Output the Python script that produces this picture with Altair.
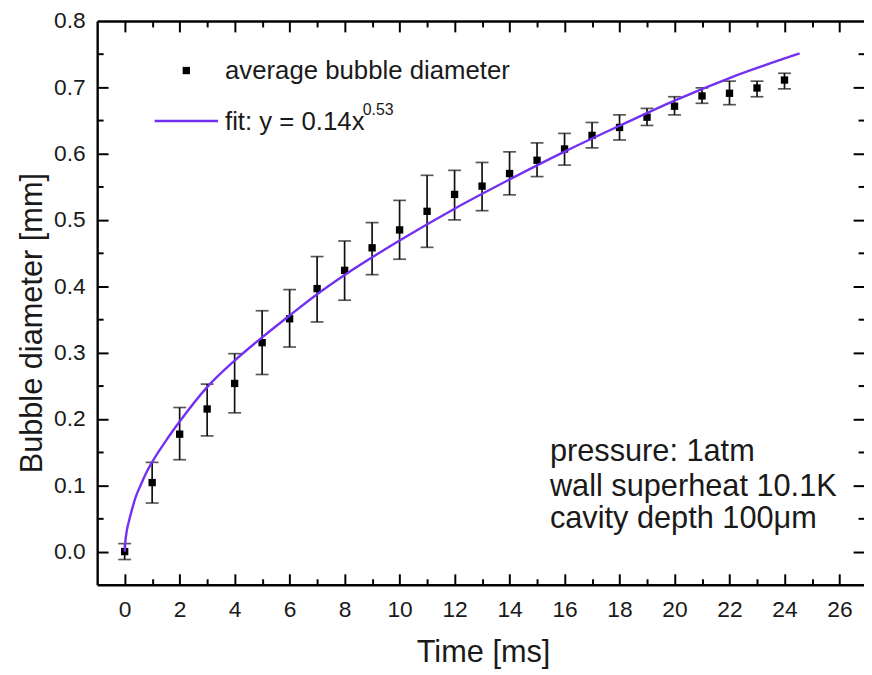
import altair as alt
import pandas as pd

# ---------------- data ----------------
time_ms = list(range(25))
diam_mm = [0.0, 0.104, 0.177, 0.215, 0.2535, 0.315, 0.351, 0.3965, 0.424, 0.458,
           0.485, 0.513, 0.5385, 0.551, 0.570, 0.590, 0.607, 0.6275, 0.6395, 0.655,
           0.6715, 0.687, 0.691, 0.699, 0.711]
err_hi = [0.012, 0.1345, 0.2172, 0.2525, 0.2984, 0.3631, 0.395, 0.4448, 0.4683, 0.496,
          0.5295, 0.5673, 0.5748, 0.5867, 0.6027, 0.6162, 0.6305, 0.647, 0.6585, 0.6682,
          0.6858, 0.6992, 0.7093, 0.7093, 0.7212]
err_lo = [-0.012, 0.0732, 0.1385, 0.1744, 0.2092, 0.267, 0.3084, 0.3462, 0.379, 0.4175,
          0.4408, 0.4587, 0.5001, 0.514, 0.5379, 0.5654, 0.5827, 0.6087, 0.6206, 0.6425,
          0.6585, 0.6759, 0.6738, 0.6858, 0.6977]

# fit curve as drawn
fit_x = [0, 0.03, 0.08, 0.15, 0.25, 0.4, 0.6, 0.8, 1, 1.5, 2, 3, 4, 5, 6, 7, 8,
         10, 12, 14, 16, 18, 20, 22, 24.55]
fit_y = [0, 0.017, 0.032, 0.045, 0.061, 0.082, 0.102, 0.12, 0.135, 0.167, 0.196,
         0.248, 0.288, 0.323, 0.356, 0.388, 0.417, 0.469, 0.517, 0.561, 0.603,
         0.642, 0.680, 0.714, 0.751]

x_major = [0, 2, 4, 6, 8, 10, 12, 14, 16, 18, 20, 22, 24, 26]
x_minor = [1, 3, 5, 7, 9, 11, 13, 15, 17, 19, 21, 23, 25]
y_labels = [0.0, 0.1, 0.2, 0.3, 0.4, 0.5, 0.6, 0.7, 0.8]
y_major = [0.0, 0.1, 0.2, 0.3, 0.4, 0.5, 0.6, 0.7]
y_minor = [0.05, 0.15, 0.25, 0.35, 0.45, 0.55, 0.65, 0.75]

x_title = "Time [ms]"
y_title = "Bubble diameter [mm]"
legend_points = "average bubble diameter"
legend_fit = "fit: y = 0.14x"
legend_fit_exp = "0.53"
notes = ["pressure: 1atm", "wall superheat 10.1K", "cavity depth 100\u03bcm"]

# ---------------- styling ----------------
FONT = "Liberation Sans"
PURPLE = "#7430f2"
INK = "#1a1a1a"
MAJ = 11
MIN = 6

df = pd.DataFrame({"t": time_ms, "d": diam_mm, "hi": err_hi, "lo": err_lo})
fit = pd.DataFrame({"fx": fit_x, "fy": fit_y})
one = pd.DataFrame({"k": [0]})

XS = alt.Scale(domain=[-1, 27], range=[0, 777], nice=False, zero=False)
YS = alt.Scale(domain=[-0.05, 0.8], nice=False, zero=False)


def tick_axis(orient, values, size):
    return alt.Axis(orient=orient, values=values, offset=-size, tickSize=size,
                    tickWidth=2, tickColor="black", domain=False, labels=False,
                    grid=False, title=None)


def frame_axis(orient):
    return alt.Axis(orient=orient, domain=True, domainWidth=2.4, domainColor="black",
                    ticks=False, labels=False, grid=False, title=None)


x_bottom = alt.Axis(orient="bottom", values=x_major, format="d", domain=True,
                    domainWidth=2.4, domainColor="black", ticks=False, tickSize=0,
                    labels=True, labelFont=FONT, labelFontSize=23, labelColor=INK,
                    labelBaseline="alphabetic", labelPadding=32, grid=False,
                    title=x_title, titleFont=FONT, titleFontSize=31,
                    titleFontWeight="normal", titleColor=INK, titleX=389.5,
                    titleY=77, titleBaseline="alphabetic")
y_left = alt.Axis(orient="left", values=y_labels, format=".1f", domain=True,
                  domainWidth=2.4, domainColor="black", ticks=False, tickSize=0,
                  labels=True, labelFont=FONT, labelFontSize=23, labelColor=INK,
                  labelPadding=12, grid=False,
                  title=y_title, titleFont=FONT, titleFontSize=31,
                  titleFontWeight="normal", titleColor=INK, titleAngle=270,
                  titleX=-56, titleY=304.5, titleBaseline="alphabetic",
                  titleAlign="center")

err = alt.Chart(df).mark_rule(color="#111", strokeWidth=1.7).encode(
    x=alt.X("t:Q", scale=XS, axis=x_bottom),
    y=alt.Y("lo:Q", scale=YS, axis=y_left),
    y2="hi:Q",
)
cap_hi = alt.Chart(df).mark_tick(color="#111", orient="horizontal", size=13,
                                 thickness=1.7).encode(
    x=alt.X("t:Q", scale=XS, axis=tick_axis("bottom", x_major, MAJ)),
    y=alt.Y("hi:Q", scale=YS, axis=tick_axis("left", y_major, MAJ)),
)
cap_lo = alt.Chart(df).mark_tick(color="#111", orient="horizontal", size=13,
                                 thickness=1.7).encode(
    x=alt.X("t:Q", scale=XS, axis=tick_axis("bottom", x_minor, MIN)),
    y=alt.Y("lo:Q", scale=YS, axis=tick_axis("left", y_minor, MIN)),
)
squares = alt.Chart(df).mark_square(color="black", size=55, opacity=1).encode(
    x=alt.X("t:Q", scale=XS, axis=frame_axis("top")),
    y=alt.Y("d:Q", scale=YS, axis=tick_axis("right", y_major, MAJ)),
)
fit_line = alt.Chart(fit).mark_line(color=PURPLE, strokeWidth=2.4,
                                    interpolate="monotone").encode(
    x=alt.X("fx:Q", scale=XS, axis=tick_axis("top", x_major, MAJ)),
    y=alt.Y("fy:Q", scale=YS, axis=tick_axis("right", y_minor, MIN)),
)
axis_only = alt.Chart(df).mark_point(opacity=0).encode(
    x=alt.X("t:Q", scale=XS, axis=tick_axis("top", x_minor, MIN)),
    y=alt.Y("d:Q", scale=YS, axis=None),
)

# legend
leg_sq = alt.Chart(one).mark_square(color="black", size=55, opacity=1).encode(
    x=alt.value(90), y=alt.value(50))
leg_line = alt.Chart(one).mark_rule(color=PURPLE, strokeWidth=2.4).encode(
    x=alt.value(58), x2=alt.value(122), y=alt.value(101))
leg_t1 = alt.Chart(one).mark_text(align="left", baseline="alphabetic", font=FONT,
                                  fontSize=26, color=INK).encode(
    x=alt.value(129), y=alt.value(59), text=alt.value(legend_points))
leg_t2 = alt.Chart(one).mark_text(align="left", baseline="alphabetic", font=FONT,
                                  fontSize=26, color=INK).encode(
    x=alt.value(129), y=alt.value(110), text=alt.value(legend_fit))
leg_t3 = alt.Chart(one).mark_text(align="left", baseline="alphabetic", font=FONT,
                                  fontSize=16, color=INK).encode(
    x=alt.value(268), y=alt.value(95), text=alt.value(legend_fit_exp))

note_y = [444, 479, 512]
note_layers = []
for i, s in enumerate(notes):
    note_layers.append(
        alt.Chart(one).mark_text(align="left", baseline="alphabetic", font=FONT,
                                 fontSize=31, color=INK).encode(
            x=alt.value(457), y=alt.value(note_y[i]), text=alt.value(s))
    )

chart = alt.layer(
    err, cap_hi, cap_lo, squares, fit_line, axis_only,
    leg_sq, leg_line, leg_t1, leg_t2, leg_t3, *note_layers
).resolve_axis(
    x="independent", y="independent"
).properties(
    width=774, height=569,
    autosize=alt.AutoSizeParams(type="none"),
    padding={"left": 90, "top": 10, "right": 0, "bottom": 88},
    background="white",
).configure_view(stroke="transparent")

chart.save("out.html", embed_options={"renderer": "svg", "actions": False})
